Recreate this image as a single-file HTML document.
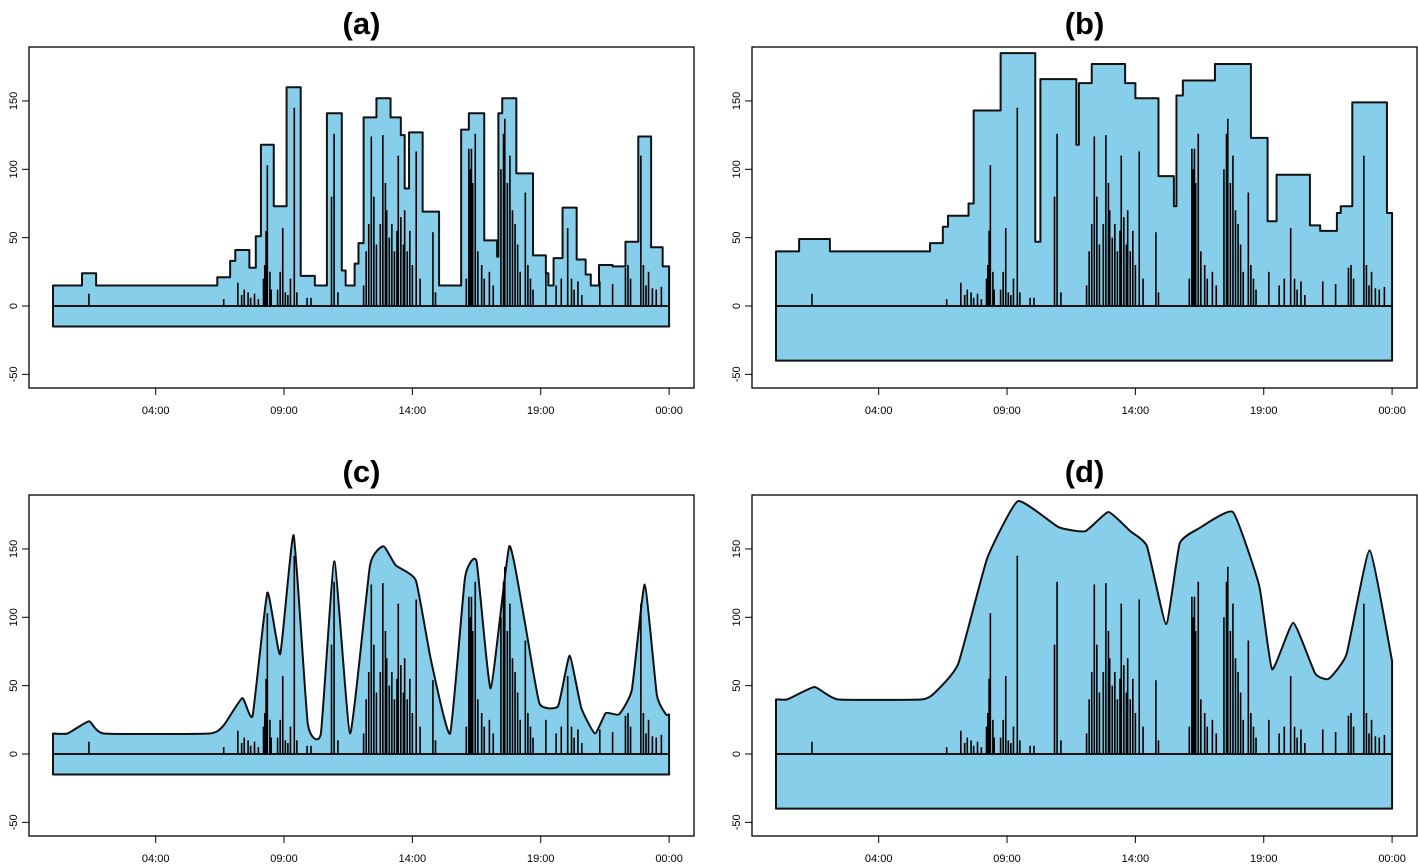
<!DOCTYPE html>
<html><head><meta charset="utf-8"><style>
html,body{margin:0;padding:0;background:#fff;}
svg{display:block;font-family:"Liberation Sans",Arial,sans-serif;}
</style></head><body>
<svg id="chart" width="1418" height="866" viewBox="0 0 1418 866" xmlns="http://www.w3.org/2000/svg"></svg>
<script>
// ---- data ----
const aTimes=[0,1.13,1.68,6.4,6.9,7.1,7.65,7.9,8.1,8.6,9.1,9.65,10.2,10.67,11.25,11.4,11.75,11.9,12.1,12.6,13.15,13.55,13.7,13.87,14.4,15.04,15.9,16.2,16.8,17.3,17.35,17.5,18.05,18.7,19.2,19.3,19.5,19.85,20.4,20.75,20.95,21.27,21.8,22.3,22.8,23.3,23.75];
const aValues=[15,24,15,21,33,41,28,51,118,73,160,22,15,141,26,15,31,46,138,152,138,125,86,127,69,15,129,141,48,36,141,152,97,37,24,15,35,72,34,23,15,30,29,47,124,43,29];
const bTimes=[0,0.9,2.1,6.0,6.5,6.7,7.5,7.7,8.75,10.1,10.3,11.7,11.8,12.3,13.6,14.0,14.9,15.5,15.6,15.85,17.1,18.5,19.15,19.5,20.8,21.2,21.85,22.0,22.45,23.8];
const bValues=[40,49,40,46,58,66,75,143,185,47,166,118,163,177,163,152,95,73,154,165,177,123,62,96,59,55,68,73,149,68];
const spikeTimes=[1.4,6.65,7.2,7.35,7.45,7.6,7.7,7.85,8.0,8.2,8.25,8.3,8.35,8.45,8.5,8.75,8.85,8.95,9.05,9.15,9.25,9.4,9.5,9.9,10.05,10.85,10.95,11.1,12.1,12.2,12.3,12.4,12.5,12.6,12.75,12.85,12.95,13.0,13.1,13.2,13.3,13.4,13.45,13.55,13.65,13.7,13.8,13.9,14.0,14.15,14.3,14.8,14.9,16.1,16.2,16.25,16.3,16.35,16.45,16.55,16.7,16.8,17.0,17.15,17.45,17.55,17.6,17.7,17.8,17.9,18.0,18.1,18.2,18.4,18.5,18.6,18.7,19.2,19.6,19.8,20.05,20.2,20.3,20.45,20.6,21.3,21.8,22.3,22.4,22.5,22.9,23.0,23.1,23.2,23.35,23.5,23.7];
const spikeValues=[9,5,17,8,12,10,6,9,5,20,30,55,103,25,12,12,25,57,10,8,20,145,10,6,6,80,126,10,15,40,60,124,80,45,60,125,90,70,50,60,40,55,110,65,45,70,40,55,30,113,20,54,10,20,115,100,115,90,126,40,30,20,25,15,100,126,137,90,110,70,60,45,25,83,30,20,12,25,15,20,57,20,12,18,8,18,16,28,30,20,110,30,15,25,13,12,14];
const yTicks=[-50,0,50,100,150];
const xTickHours=[4,9,14,19,24];
const xTickLabels=["04:00","09:00","14:00","19:00","00:00"];
const panels=[
 {id:"a",left:29,top:47,times:aTimes,values:aValues,neg:15,smooth:false},
 {id:"b",left:752,top:47,times:bTimes,values:bValues,neg:40,smooth:false},
 {id:"c",left:29,top:495,times:aTimes,values:aValues,neg:15,smooth:true},
 {id:"d",left:752,top:495,times:bTimes,values:bValues,neg:40,smooth:true}
];
const NS="http://www.w3.org/2000/svg";
const svg=document.getElementById("chart");
function mk(tag,attrs,parent){const e=document.createElementNS(NS,tag);for(const k in attrs)e.setAttribute(k,attrs[k]);(parent||svg).appendChild(e);return e;}
panels.forEach(p=>{
  const W=665,H=341;
  const y0=p.top+259;
  const sy=1.367, sx=25.67, x0=p.left+24;
  const X=h=>x0+h*sx, Y=v=>y0-v*sy;
  const g=mk("g",{});
  
  
  const t=mk("text",{x:p.left+W/2,y:p.top-13,"text-anchor":"middle","font-size":"31","font-weight":"bold"},g);
  t.textContent="("+p.id+")";
  
  
  let d="M"+X(0)+","+Y(-p.neg)+" L"+X(0)+","+Y(p.values[0]);
  if(!p.smooth){
    for(let i=0;i<p.times.length;i++){
      const t1=i+1<p.times.length?p.times[i+1]:24;
      d+=" L"+X(p.times[i])+","+Y(p.values[i])+" L"+X(t1)+","+Y(p.values[i]);
    }
  }else{
    const pts=[];
    for(let i=0;i<p.times.length;i++){
      const t1=i+1<p.times.length?p.times[i+1]:24;
      const dur=t1-p.times[i];
      if(dur<0.25) continue;
      if(dur>3){pts.push([p.times[i]+0.3,p.values[i]]);pts.push([t1-0.3,p.values[i]]);}
      else pts.push([(p.times[i]+t1)/2,p.values[i]]);
    }
    if(pts[0][0]>0) pts.unshift([0,pts[0][1]]);
    pts.push([24,p.values[p.values.length-1]]);
    const P=pts.map(q=>[X(q[0]),Y(q[1])]);
    for(let i=0;i<P.length-1;i++){
      const p0=P[Math.max(0,i-1)],p1=P[i],p2=P[i+1],p3=P[Math.min(P.length-1,i+2)];
      const k=14;
      const c1=[p1[0]+(p2[0]-p0[0])/k,p1[1]+(p2[1]-p0[1])/k];
      const c2=[p2[0]-(p3[0]-p1[0])/k,p2[1]-(p3[1]-p1[1])/k];
      d+=" C"+c1[0]+","+c1[1]+" "+c2[0]+","+c2[1]+" "+p2[0]+","+p2[1];
    }
  }
  d+=" L"+X(24)+","+Y(-p.neg)+" Z";
  const env=mk("path",{d:d,fill:"#87CEEB",stroke:"#111","stroke-width":"2","stroke-linejoin":"round"},g);
  
  
  const zl=mk("line",{x1:X(0),x2:X(24),y1:Y(0),y2:Y(0),stroke:"#111","stroke-width":"2"},g);
  
  
  for(let i=0;i<spikeTimes.length;i++){
    const s=mk("line",{x1:X(spikeTimes[i]),x2:X(spikeTimes[i]),y1:Y(0),y2:Y(spikeValues[i]),stroke:"#000","stroke-width":"1.6"},g);
    
    
  }
  const box=mk("rect",{x:p.left,y:p.top,width:W,height:H,fill:"none",stroke:"#000","stroke-width":"1.3"},g);
  
  
  yTicks.forEach(v=>{
    const ty=Y(v);
    const tk=mk("line",{x1:p.left,x2:p.left-7,y1:ty,y2:ty,stroke:"#000","stroke-width":"1"},g);
    
    
    const lb=mk("text",{x:p.left-12,y:ty,"text-anchor":"middle","font-size":"11",transform:"rotate(-90 "+(p.left-12)+" "+ty+")"},g);
    lb.textContent=String(v);
    
    
  });
  xTickHours.forEach((h,i)=>{
    const tx=X(h);
    const tk=mk("line",{x1:tx,x2:tx,y1:p.top+H,y2:p.top+H+7,stroke:"#000","stroke-width":"1"},g);
    
    
    const lb=mk("text",{x:tx,y:p.top+H+26,"text-anchor":"middle","font-size":"11"},g);
    lb.textContent=xTickLabels[i];
    
    
  });
  const ax=mk("line",{x1:X(4),x2:X(24),y1:p.top+H,y2:p.top+H,stroke:"#000","stroke-width":"1"},g);
  
  
});
</script>
</body></html>
